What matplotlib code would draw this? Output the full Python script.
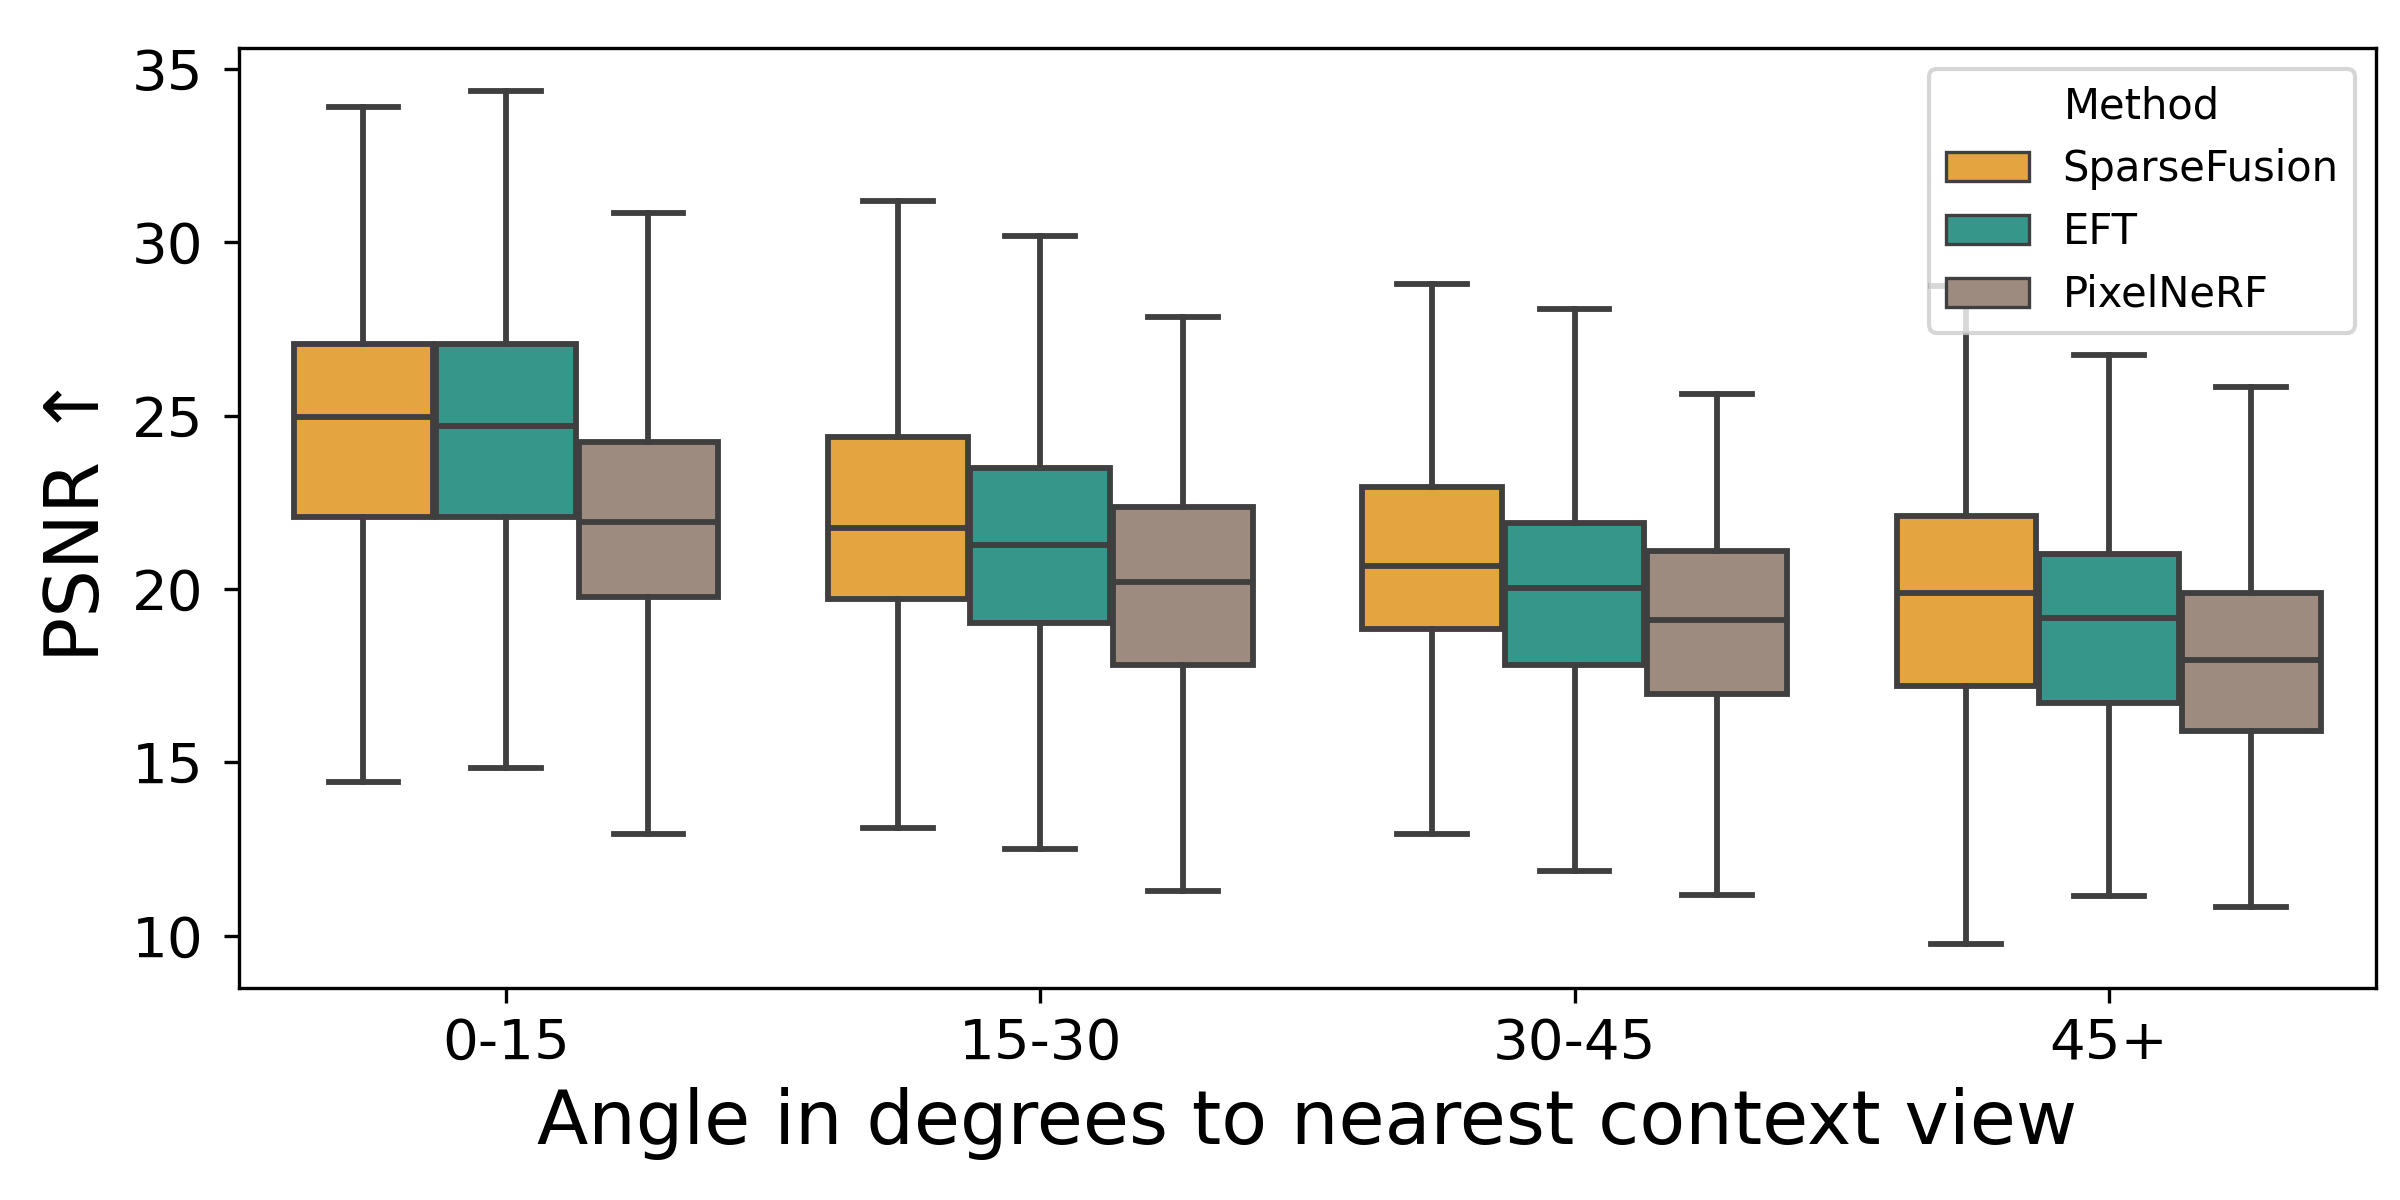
import numpy as np
import matplotlib
matplotlib.use("Agg")
import matplotlib.pyplot as plt
from matplotlib.patches import Patch

# Values
angle_bins = ["0-15", "15-30", "30-45", "45+"]
methods = ["SparseFusion", "EFT", "PixelNeRF"]
colors = ["#e4a43f", "#36968a", "#9e8b80"]

# per method, per angle bin
whis_lo = {
    "SparseFusion": [14.43, 13.09, 12.94, 9.76],
    "EFT": [14.83, 12.50, 11.85, 11.13],
    "PixelNeRF": [12.94, 11.30, 11.17, 10.83],
}
q1 = {
    "SparseFusion": [22.07, 19.70, 18.85, 17.19],
    "EFT": [22.07, 19.02, 17.80, 16.72],
    "PixelNeRF": [19.76, 17.80, 16.98, 15.89],
}
median = {
    "SparseFusion": [24.96, 21.76, 20.67, 19.87],
    "EFT": [24.70, 21.26, 20.02, 19.17],
    "PixelNeRF": [21.94, 20.20, 19.11, 17.96],
}
q3 = {
    "SparseFusion": [27.07, 24.37, 22.94, 22.11],
    "EFT": [27.07, 23.50, 21.91, 21.02],
    "PixelNeRF": [24.24, 22.35, 21.09, 19.89],
}
whis_hi = {
    "SparseFusion": [33.89, 31.20, 28.78, 28.74],
    "EFT": [34.35, 30.19, 28.07, 26.74],
    "PixelNeRF": [30.83, 27.85, 25.61, 25.81],
}

line_col = "#3f3f3f"
lw = 1.4

fig, ax = plt.subplots(figsize=(8, 4), dpi=300)
fig.subplots_adjust(left=0.0995, right=0.99, top=0.96, bottom=0.177)

n = len(methods)
group_w = 0.8
box_w = group_w / n
for j, m in enumerate(methods):
    stats = []
    for i in range(len(angle_bins)):
        stats.append(dict(whislo=whis_lo[m][i], q1=q1[m][i], med=median[m][i],
                          q3=q3[m][i], whishi=whis_hi[m][i], fliers=[]))
    pos = np.arange(len(angle_bins)) - group_w / 2 + box_w * (j + 0.5)
    ax.bxp(stats, positions=pos, widths=box_w * 0.98, patch_artist=True,
           showfliers=False, manage_ticks=False,
           boxprops=dict(facecolor=colors[j], edgecolor=line_col, linewidth=lw),
           medianprops=dict(color=line_col, linewidth=lw),
           whiskerprops=dict(color=line_col, linewidth=lw),
           capprops=dict(color=line_col, linewidth=lw))

ax.set_xlim(-0.5, len(angle_bins) - 0.5)
ax.set_ylim(8.5, 35.6)
ax.set_xticks(np.arange(len(angle_bins)))
ax.set_xticklabels(angle_bins)
ax.set_yticks([10, 15, 20, 25, 30, 35])
ax.tick_params(labelsize=13.5)
ax.tick_params(axis="y", pad=5)
ax.set_ylabel("PSNR ↑", fontsize=18)
ax.set_xlabel("Angle in degrees to nearest context view", fontsize=18)

handles = [Patch(facecolor=c, edgecolor=line_col, linewidth=0.8) for c in colors]
ax.legend(handles, methods, title="Method", loc="upper right", fontsize=10,
          title_fontsize=10)

fig.savefig("out.png", dpi=300)
